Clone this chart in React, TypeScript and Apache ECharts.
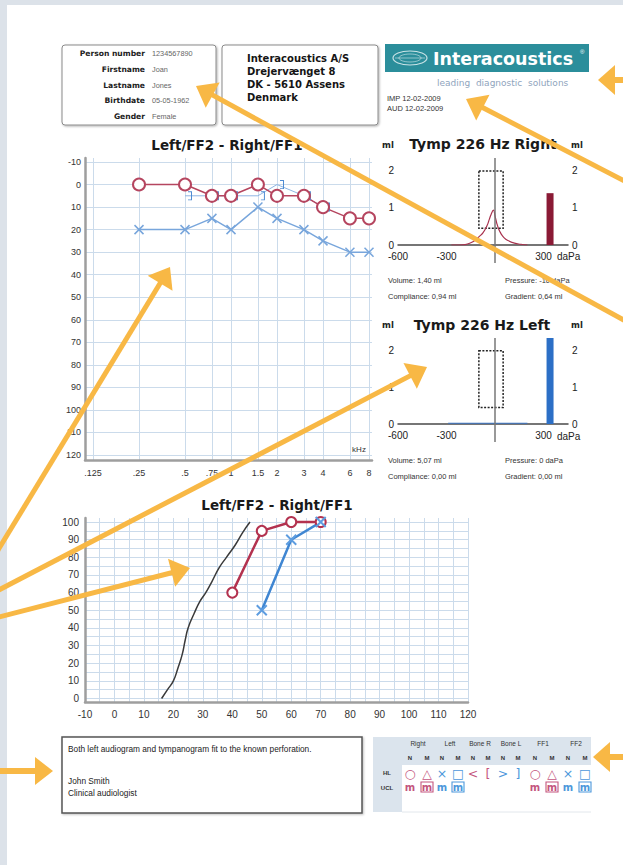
import React, { useEffect, useRef } from "react";
import * as echarts from "echarts";

// ---------- Audiogram data ----------
const freqTicks = [0.125, 0.25, 0.5, 0.75, 1, 1.5, 2, 3, 4, 6, 8];
const freqLabels = [".125", ".25", ".5", ".75", "1", "1.5", "2", "3", "4", "6", "8"];
const dbTicks = [-10, 0, 10, 20, 30, 40, 50, 60, 70, 80, 90, 100, 110, 120];
const acFreqs = [0.25, 0.5, 0.75, 1, 1.5, 2, 3, 4, 6, 8];
const rightAC = [0, 0, 5, 5, 0, 5, 5, 10, 15, 15];
const leftAC = [20, 20, 15, 20, 10, 15, 20, 25, 30, 30];
const boneFreqs = [0.5, 0.75, 1, 1.5, 2, 3, 4];
const leftBone = [5, 5, 5, 5, 0, 5, 10];

// ---------- Tympanogram data ----------
const tympTicksX = [-600, -300, 300];
const tympTicksY = [0, 1, 2];
const tympRightPressure = [-270, -220, -185, -150, -120, -100, -75, -50, -35, -25, -10, 0, 10, 20, 35, 55, 80, 120, 160, 200];
const tympRightMl = [0, 0, 0.01, 0.06, 0.14, 0.22, 0.33, 0.52, 0.7, 0.82, 0.94, 0.78, 0.6, 0.46, 0.32, 0.2, 0.12, 0.05, 0.02, 0];
const tympLeftPressure = [-290, -200, -100, 0, 100, 200];
const tympLeftMl = [0.02, 0.02, 0.02, 0.02, 0.02, 0.02];
const normBoxPressure = [-100, 50];
const normBoxMl = [0.45, 2.0];
const volumeBarPressure = 340;
const rightVolume = 1.4;
const rightCompliance = 0.94;
const rightPressure = -10;
const rightGradient = 0.64;
const leftVolume = 5.07;
const leftCompliance = 0.0;
const leftPressureVal = 0;
const leftGradient = 0.0;

// ---------- Speech audiogram data ----------
const speechXTicks = [-10, -5, 0, 5, 10, 15, 20, 25, 30, 35, 40, 45, 50, 55, 60, 65, 70, 75, 80, 85, 90, 95, 100, 105, 110, 115, 120];
const speechXLabels = [-10, 0, 10, 20, 30, 40, 50, 60, 70, 80, 90, 100, 110, 120];
const speechYTicks = [0, 5, 10, 15, 20, 25, 30, 35, 40, 45, 50, 55, 60, 65, 70, 75, 80, 85, 90, 95, 100];
const speechYLabels = [0, 10, 20, 30, 40, 50, 60, 70, 80, 90, 100];
const normLevel = [16, 18, 20, 21.5, 23, 24, 25, 27, 29, 31, 33, 35.5, 38, 41, 43.5, 46];
const normScore = [0, 5, 10, 17, 25, 33, 40, 48, 55, 60, 66, 74, 80, 87, 94, 100];
const speechRightLevel = [40, 50, 60, 70];
const speechRightScore = [60, 95, 100, 100];
const speechLeftLevel = [50, 60, 70];
const speechLeftScore = [50, 90, 100];

const oct = (f: number) => Math.log2(f / 0.125);
const commaFmt = (v: number) => v.toFixed(2).replace(".", ",");

const RED = "#b5455f";
const BLUE_L = "#78a6dc";
const GRIDC = "#cbdbeb";
const ORANGE = "#f8b845";
const CROSS = "path://M0,0L10,10M10,0L0,10";
const BRACKET = "path://M0,0L4,0L4,10L0,10L0,9L3,9L3,1L0,1Z";
const SANS = "'Liberation Sans', Arial, sans-serif";
const DJV = "'DejaVu Sans', sans-serif";

function T(text: string, x: number, y: number, font: string, fill = "#222", align = "left", z = 5) {
  return { type: "text", x, y, z, silent: true, style: { text, font, fill, align, verticalAlign: "middle" } };
}

function arrow(tx: number, ty: number, sx: number, sy: number, headLen = 19, headW = 29, w = 5) {
  const dx = tx - sx, dy = ty - sy;
  const len = Math.sqrt(dx * dx + dy * dy);
  const ux = dx / len, uy = dy / len;
  const bx = tx - ux * headLen, by = ty - uy * headLen;
  const px = -uy, py = ux;
  return [
    { type: "line", z: 100, silent: true, shape: { x1: sx, y1: sy, x2: bx + ux * 2, y2: by + uy * 2 }, style: { stroke: ORANGE, lineWidth: w } },
    { type: "polygon", z: 100, silent: true, shape: { points: [[tx, ty], [bx + (px * headW) / 2, by + (py * headW) / 2], [bx - (px * headW) / 2, by - (py * headW) / 2]] }, style: { fill: ORANGE } },
  ];
}

function buildOption(): any {
  const g: any[] = [];
  // page
  g.push({ type: "rect", z: -10, silent: true, shape: { x: 7, y: 5, width: 620, height: 865 }, style: { fill: "#ffffff" } });

  // patient box
  g.push({ type: "rect", z: 1, silent: true, shape: { x: 62, y: 45, width: 154, height: 80, r: 3 }, style: { fill: "#fff", stroke: "#8a8a8a", lineWidth: 1, shadowBlur: 2, shadowOffsetX: 1, shadowOffsetY: 1, shadowColor: "rgba(0,0,0,0.3)" } });
  const pLabels = ["Person number", "Firstname", "Lastname", "Birthdate", "Gender"];
  const pValues = ["1234567890", "Joan", "Jones", "05-05-1962", "Female"];
  const pY = [53, 69, 85, 100, 116];
  pLabels.forEach((l, i) => {
    g.push(T(l, 145, pY[i], `bold 7.6px ${DJV}`, "#222", "right"));
    g.push(T(pValues[i], 152, pY[i], `7.3px ${SANS}`, "#666", "left"));
  });

  // company box
  g.push({ type: "rect", z: 1, silent: true, shape: { x: 222, y: 45, width: 156, height: 80, r: 3 }, style: { fill: "#fff", stroke: "#8a8a8a", lineWidth: 1, shadowBlur: 2, shadowOffsetX: 1, shadowOffsetY: 1, shadowColor: "rgba(0,0,0,0.3)" } });
  ["Interacoustics A/S", "Drejervænget 8", "DK - 5610 Assens", "Denmark"].forEach((s, i) => {
    g.push(T(s, 247, 58 + i * 13, `bold 10px ${DJV}`, "#151515", "left"));
  });

  // logo
  g.push({ type: "rect", z: 1, silent: true, shape: { x: 385, y: 44, width: 204, height: 28 }, style: { fill: "#2b8e9b" } });
  g.push({ type: "ellipse", z: 2, silent: true, shape: { cx: 410, cy: 58, rx: 17, ry: 7 }, style: { fill: "none", stroke: "rgba(255,255,255,0.75)", lineWidth: 1.2 } });
  g.push({ type: "ellipse", z: 2, silent: true, shape: { cx: 410, cy: 58, rx: 11, ry: 4 }, style: { fill: "none", stroke: "rgba(255,255,255,0.6)", lineWidth: 0.8 } });
  g.push({ type: "line", z: 2, silent: true, shape: { x1: 395, y1: 58, x2: 425, y2: 58 }, style: { stroke: "rgba(255,255,255,0.6)", lineWidth: 0.8 } });
  g.push(T("Interacoustics", 433, 59, `bold 17.5px ${DJV}`, "#ffffff", "left"));
  g.push(T("®", 580, 52, `6px ${SANS}`, "#ffffff", "left"));
  g.push(T("leading  diagnostic  solutions", 437, 83, `9px ${DJV}`, "#8fa4bd", "left"));
  g.push(T("IMP 12-02-2009", 387, 98, `7.5px ${SANS}`, "#333", "left"));
  g.push(T("AUD 12-02-2009", 387, 108, `7.5px ${SANS}`, "#333", "left"));

  // chart titles
  g.push(T("Left/FF2 - Right/FF1", 227, 145, `bold 13.5px ${DJV}`, "#1a1a1a", "center"));
  g.push(T("Tymp 226 Hz Right", 483, 144, `bold 14px ${DJV}`, "#1a1a1a", "center"));
  g.push(T("Tymp 226 Hz Left", 482, 325, `bold 14px ${DJV}`, "#1a1a1a", "center"));
  g.push(T("Left/FF2 - Right/FF1", 277, 505, `bold 13.5px ${DJV}`, "#1a1a1a", "center"));
  g.push(T("kHz", 359, 449, `8px ${SANS}`, "#333", "center"));

  // ml / daPa
  [145, 325].forEach((y) => {
    g.push(T("ml", 388, y, `bold 8.5px ${DJV}`, "#222", "center"));
    g.push(T("ml", 577, y, `bold 8.5px ${DJV}`, "#222", "center"));
  });
  g.push(T("daPa", 557, 256, `10px ${SANS}`, "#222", "left"));
  g.push(T("daPa", 557, 436, `10px ${SANS}`, "#222", "left"));
  // zero-pressure line extension below the axis
  g.push({ type: "line", z: 3, silent: true, shape: { x1: 495, y1: 245, x2: 495, y2: 263 }, style: { stroke: "#777", lineWidth: 1.5 } });
  g.push({ type: "line", z: 3, silent: true, shape: { x1: 495, y1: 424, x2: 495, y2: 442 }, style: { stroke: "#777", lineWidth: 1.5 } });

  // tymp info
  const info = (y: number, vol: number, comp: number, pres: number, grad: number) => {
    g.push(T(`Volume: ${commaFmt(vol)} ml`, 388, y, `7.5px ${SANS}`, "#333"));
    g.push(T(`Compliance: ${commaFmt(comp)} ml`, 388, y + 16, `7.5px ${SANS}`, "#333"));
    g.push(T(`Pressure: ${pres} daPa`, 505, y, `7.5px ${SANS}`, "#333"));
    g.push(T(`Gradient: ${commaFmt(grad)} ml`, 505, y + 16, `7.5px ${SANS}`, "#333"));
  };
  info(280, rightVolume, rightCompliance, rightPressure, rightGradient);
  info(460, leftVolume, leftCompliance, leftPressureVal, leftGradient);

  // comment box
  g.push({ type: "rect", z: 1, silent: true, shape: { x: 62, y: 737, width: 300, height: 76 }, style: { fill: "#fff", stroke: "#555", lineWidth: 1.5, shadowBlur: 2, shadowOffsetX: 1, shadowOffsetY: 1, shadowColor: "rgba(0,0,0,0.25)" } });
  g.push(T("Both left audiogram and tympanogram fit to the known perforation.", 68, 749, `8.3px ${SANS}`, "#222"));
  g.push(T("John Smith", 68, 781, `8.3px ${SANS}`, "#222"));
  g.push(T("Clinical audiologist", 68, 793, `8.3px ${SANS}`, "#222"));

  // legend
  g.push({ type: "rect", z: 1, silent: true, shape: { x: 373, y: 737, width: 218, height: 28 }, style: { fill: "#dbe4ed" } });
  g.push({ type: "rect", z: 1, silent: true, shape: { x: 373, y: 765, width: 29, height: 47 }, style: { fill: "#dbe4ed" } });
  g.push({ type: "line", z: 1, silent: true, shape: { x1: 402, y1: 812, x2: 591, y2: 812 }, style: { stroke: "#e2e7ec", lineWidth: 1 } });
  const hdr = ["Right", "Left", "Bone R", "Bone L", "FF1", "FF2"];
  const hdrX = [418, 450, 480, 511, 543, 576];
  hdr.forEach((h, i) => g.push(T(h, hdrX[i], 743, `6.5px ${SANS}`, "#333", "center")));
  const colX = [410, 427, 442, 458, 473, 488, 503, 518, 535, 552, 568, 585];
  colX.forEach((x, i) => g.push(T(i % 2 === 0 ? "N" : "M", x, 758, `bold 6px ${SANS}`, "#333", "center")));
  const hlSym = ["○", "△", "×", "□", "<", "[", ">", "]", "○", "△", "×", "□"];
  const hlCol = ["#c4557e", "#c4557e", "#4d97db", "#4d97db", "#c4557e", "#c4557e", "#4d97db", "#4d97db", "#c4557e", "#c4557e", "#4d97db", "#4d97db"];
  colX.forEach((x, i) => g.push(T(hlSym[i], x, 773, `12.5px ${DJV}`, hlCol[i], "center")));
  [0, 1, 2, 3, 8, 9, 10, 11].forEach((i) => {
    g.push(T("m", colX[i], 787, `bold 10px ${DJV}`, hlCol[i], "center"));
    if (i % 2 === 1) g.push({ type: "rect", z: 5, silent: true, shape: { x: colX[i] - 6, y: 782, width: 12, height: 10 }, style: { fill: "none", stroke: hlCol[i], lineWidth: 1.1 } });
  });
  g.push(T("HL", 387, 773, `bold 6px ${SANS}`, "#333", "center"));
  g.push(T("UCL", 387, 788, `bold 6px ${SANS}`, "#333", "center"));

  // annotation arrows
  g.push(...arrow(598, 80, 640, 80, 17, 30, 6));
  g.push(...arrow(466, 99, 640, 189));
  g.push(...arrow(196, 86, 640, 329));
  g.push(...arrow(170, 267, -5, 555));
  g.push(...arrow(427, 367, -5, 592));
  g.push(...arrow(190, 568, -5, 618));
  g.push(...arrow(53, 771, -5, 771, 18, 28, 6));
  g.push(...arrow(593, 757, 640, 757, 17, 30, 6));

  const labelStyle9 = { fontSize: 9, color: "#333", fontFamily: "Liberation Sans" };
  const labelStyle10 = { fontSize: 10, color: "#333", fontFamily: "Liberation Sans" };

  const tympY = (grid: number, pos: string) => ({
    type: "value", gridIndex: grid, position: pos, min: 0, max: 2.35,
    axisLine: { show: false }, axisTick: { show: false, customValues: tympTicksY },
    axisLabel: { ...labelStyle10, color: "#222", margin: 4, customValues: tympTicksY },
    splitLine: { show: false },
  });
  const tympX = (grid: number) => ({
    type: "value", gridIndex: grid, min: -600, max: 451,
    axisLine: { show: true, onZero: false, lineStyle: { color: "#4a4a4a", width: 1.5 } },
    axisTick: { show: false, customValues: tympTicksX },
    axisLabel: { ...labelStyle10, color: "#222", margin: 6, customValues: tympTicksX },
    splitLine: { show: false },
  });

  return {
    animation: false,
    backgroundColor: "#dce2e9",
    graphic: { elements: g },
    grid: [
      { left: 85, top: 158, width: 287, height: 302, outerBoundsMode: "none" },
      { left: 398, top: 158, width: 170, height: 87, outerBoundsMode: "none" },
      { left: 398, top: 338, width: 170, height: 86, outerBoundsMode: "none" },
      { left: 85, top: 518, width: 383, height: 184, outerBoundsMode: "none" },
    ],
    xAxis: [
      {
        type: "value", gridIndex: 0, min: -0.174, max: 6.065,
        axisLine: { show: true, onZero: false, lineStyle: { color: "#9e9e9e", width: 2.5 } },
        axisTick: { show: false, customValues: freqTicks.map(oct) },
        axisLabel: {
          ...labelStyle9, margin: 8, customValues: freqTicks.map(oct),
          formatter: (v: number) => {
            const i = freqTicks.findIndex((f) => Math.abs(oct(f) - v) < 1e-6);
            return i >= 0 ? freqLabels[i] : "";
          },
        },
        splitLine: { show: true, lineStyle: { color: GRIDC, width: 1 } },
      },
      tympX(1),
      tympX(2),
      {
        type: "value", gridIndex: 3, min: -10, max: 120,
        axisLine: { show: true, onZero: false, lineStyle: { color: "#9e9e9e", width: 2.5 } },
        axisTick: { show: false, customValues: speechXTicks },
        axisLabel: { ...labelStyle10, margin: 7, customValues: speechXLabels },
        splitLine: { show: true, lineStyle: { color: GRIDC, width: 1 } },
      },
    ],
    yAxis: [
      {
        type: "value", gridIndex: 0, inverse: true, min: -11.77, max: 122.2,
        axisLine: { show: true, onZero: false, lineStyle: { color: "#9e9e9e", width: 2.5 } },
        axisTick: { show: false, customValues: dbTicks },
        axisLabel: { ...labelStyle9, margin: 4, customValues: dbTicks },
        splitLine: { show: true, lineStyle: { color: GRIDC, width: 1 } },
      },
      tympY(1, "left"),
      tympY(1, "right"),
      tympY(2, "left"),
      tympY(2, "right"),
      {
        type: "value", gridIndex: 3, min: -2, max: 102.3,
        axisLine: { show: true, onZero: false, lineStyle: { color: "#9e9e9e", width: 2.5 } },
        axisTick: { show: false, customValues: speechYTicks },
        axisLabel: { ...labelStyle10, margin: 6, customValues: speechYLabels },
        splitLine: { show: true, lineStyle: { color: GRIDC, width: 1 } },
      },
    ],
    series: [
      // audiogram
      {
        name: "Left AC", type: "line", xAxisIndex: 0, yAxisIndex: 0,
        data: acFreqs.map((f, i) => [oct(f), leftAC[i]]),
        symbol: CROSS, symbolSize: 9,
        itemStyle: { color: BLUE_L, borderColor: BLUE_L, borderWidth: 1.5 },
        lineStyle: { color: BLUE_L, width: 1.5 },
      },
      {
        name: "Left BC", type: "line", xAxisIndex: 0, yAxisIndex: 0,
        data: boneFreqs.map((f, i) => [oct(f), leftBone[i]]),
        symbol: BRACKET, symbolSize: [4, 9], symbolOffset: [5, 0],
        itemStyle: { color: "#4f8cd3", borderWidth: 0 },
        lineStyle: { color: "#8fb6e4", width: 1 },
      },
      {
        name: "Right AC", type: "line", xAxisIndex: 0, yAxisIndex: 0,
        data: acFreqs.map((f, i) => [oct(f), rightAC[i]]),
        symbol: "emptyCircle", symbolSize: 12,
        itemStyle: { color: RED, borderWidth: 1.5 },
        lineStyle: { color: RED, width: 1.5 },
      },
      // tymp right
      {
        name: "Tymp Right", type: "line", xAxisIndex: 1, yAxisIndex: 1, smooth: true, showSymbol: false,
        data: tympRightPressure.map((p, i) => [p, tympRightMl[i]]),
        lineStyle: { color: "#a8324e", width: 1.2 }, itemStyle: { color: "#a8324e" },
        markLine: { silent: true, symbol: ["none", "none"], label: { show: false }, lineStyle: { color: "#777", width: 1.5, type: "solid" }, data: [{ xAxis: 0 }] },
        markArea: { silent: true, label: { show: false }, itemStyle: { color: "rgba(0,0,0,0)", borderColor: "#222", borderWidth: 1.5, borderType: [2, 1.5] }, data: [[{ coord: [normBoxPressure[0], normBoxMl[1]] }, { coord: [normBoxPressure[1], normBoxMl[0]] }]] },
      },
      {
        name: "Volume Right", type: "bar", xAxisIndex: 1, yAxisIndex: 1, barWidth: 7, clip: true,
        data: [[volumeBarPressure, rightVolume]], itemStyle: { color: "#8a1a35" },
      },
      // tymp left
      {
        name: "Tymp Left", type: "line", xAxisIndex: 2, yAxisIndex: 3, showSymbol: false,
        data: tympLeftPressure.map((p, i) => [p, tympLeftMl[i]]),
        lineStyle: { color: "#3b74c4", width: 1.2 }, itemStyle: { color: "#3b74c4" },
        markLine: { silent: true, symbol: ["none", "none"], label: { show: false }, lineStyle: { color: "#777", width: 1.5, type: "solid" }, data: [{ xAxis: 0 }] },
        markArea: { silent: true, label: { show: false }, itemStyle: { color: "rgba(0,0,0,0)", borderColor: "#222", borderWidth: 1.5, borderType: [2, 1.5] }, data: [[{ coord: [normBoxPressure[0], normBoxMl[1]] }, { coord: [normBoxPressure[1], normBoxMl[0]] }]] },
      },
      {
        name: "Volume Left", type: "bar", xAxisIndex: 2, yAxisIndex: 3, barWidth: 7, clip: true,
        data: [[volumeBarPressure, leftVolume]], itemStyle: { color: "#2c6fc6" },
      },
      // speech
      {
        name: "Norm", type: "line", xAxisIndex: 3, yAxisIndex: 5, smooth: true, showSymbol: false,
        data: normLevel.map((l, i) => [l, normScore[i]]),
        lineStyle: { color: "#3a3a3a", width: 1.5 }, itemStyle: { color: "#3a3a3a" },
      },
      {
        name: "Speech Right", type: "line", xAxisIndex: 3, yAxisIndex: 5,
        data: speechRightLevel.map((l, i) => [l, speechRightScore[i]]),
        symbol: "emptyCircle", symbolSize: 10,
        itemStyle: { color: "#b3324f", borderWidth: 2 }, lineStyle: { color: "#b3324f", width: 2.5 },
      },
      {
        name: "Speech Left", type: "line", xAxisIndex: 3, yAxisIndex: 5,
        data: speechLeftLevel.map((l, i) => [l, speechLeftScore[i]]),
        symbol: CROSS, symbolSize: 10,
        itemStyle: { color: "#5d9de0", borderColor: "#5d9de0", borderWidth: 2 }, lineStyle: { color: "#3f86d2", width: 2.5 },
      },
    ],
  };
}

export default function App() {
  const ref = useRef<HTMLDivElement>(null);
  useEffect(() => {
    if (!ref.current) return;
    const chart = echarts.init(ref.current, null, { renderer: "svg" });
    chart.setOption(buildOption());
    return () => chart.dispose();
  }, []);
  return <div ref={ref} style={{ position: "absolute", left: 0, top: 0, width: 623, height: 865 }} />;
}
